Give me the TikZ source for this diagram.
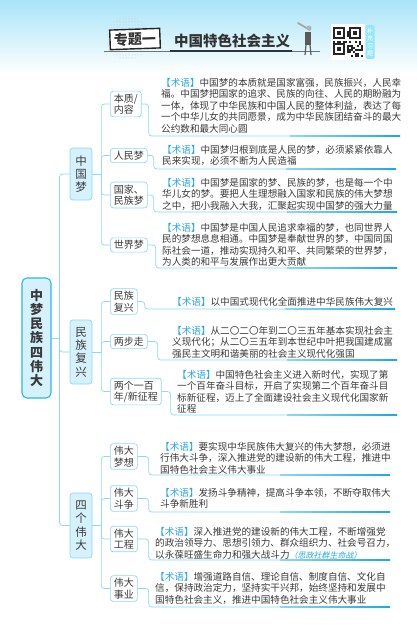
\documentclass[tikz,border=0pt]{standalone}
\usepackage{fontspec}
\setmainfont{Noto Sans CJK SC}
\usetikzlibrary{calc,patterns}
\definecolor{linkc}{HTML}{8ED8F2}
\definecolor{deepc}{HTML}{1AA9E1}
\definecolor{termc}{HTML}{2AA8E0}
\definecolor{onefill}{HTML}{D5F2FC}
\definecolor{rootline}{HTML}{2DB7E8}
\definecolor{txt}{HTML}{3A3A3A}
\definecolor{sky}{HTML}{A9E4F8}
\newcommand{\term}{{\color{termc}【术语】}}

\begin{document}
\begin{tikzpicture}[x=1pt,y=-1pt,
  link/.style={draw=linkc,line width=0.7pt,rounded corners=3pt},
  rootbox/.style={draw=rootline,line width=1.1pt,fill=onefill,rounded corners=5pt,align=center,
    font=\fontsize{13}{14.2}\selectfont\bfseries,text=txt,minimum width=29pt,minimum height=120pt,inner sep=0pt},
  lone/.style={draw=linkc,line width=0.7pt,fill=onefill,rounded corners=3pt,align=center,
    font=\fontsize{11.5}{13.3}\selectfont,text=txt,minimum width=22pt,inner xsep=0pt},
  ltwo/.style={draw=linkc,line width=0.7pt,fill=white,rounded corners=3pt,align=left,anchor=west,
    font=\fontsize{10}{11.5}\selectfont,text=txt,inner xsep=3.5pt,inner ysep=2.5pt},
  para/.style={anchor=north west,align=left,inner sep=0pt,font=\fontsize{9.6}{11.5}\selectfont,text=txt}]
\useasboundingbox (0,0) rectangle (417,634);
\fill[white] (0,0) rectangle (417,634);
% header
\shade[top color=sky,bottom color=white] (0,0) rectangle (417,74);
\fill[pattern=dots,pattern color=gray!45] (128,38) circle (22);
\draw[black!55,line width=0.8pt] (104,51) -- (320,51);
\draw[black!80,line width=1.6pt] (170,51) -- (292,51);
\node[draw=black!85,line width=1.4pt,fill=white,rotate=2,font=\fontsize{14}{15}\selectfont\bfseries,
  text=black!80,inner xsep=4pt,inner ysep=3pt] (ztyi) at (135,39) {专题一};
\node[font=\fontsize{14.5}{15}\selectfont\bfseries,text=black!80] (ttl) at (232,41) {中国特色社会主义};
% little figure
\draw[gray!70,line width=1.8pt,line cap=round] (298,23) -- (310,30);
\fill[gray!60] (309,28) circle (2.5);
\fill[black!65] (305,32) rectangle (311,45);
\draw[black!65,line width=1.2pt] (306,45) -- (305,55) (310,45) -- (311,55);
% qr code
\fill[white] (331,24) rectangle (365,60);
\pgfmathsetseed{5}
\foreach \i in {0,...,14}{\foreach \j in {0,...,14}{
  \pgfmathsetmacro\q{rnd}
  \ifdim\q pt<0.45pt \fill[black!85] ({333+2*\i},{27+2*\j}) rectangle ++(2,2);\fi}}
\foreach \fx/\fy in {333/27,349/27,333/43}{
  \fill[white] (\fx,\fy) rectangle ++(14,14);
  \fill[black!85] (\fx,\fy) rectangle ++(12,12);
  \fill[white] ({\fx+2},{\fy+2}) rectangle ++(8,8);
  \fill[black!85] ({\fx+4},{\fy+4}) rectangle ++(4,4);}
\fill[sky!90!cyan,rounded corners=1.5pt] (365.5,25) rectangle (374.5,59);
\node[text=white,align=center,inner sep=0pt,font=\fontsize{6}{7.5}\selectfont] (qtab) at (370,42) {补\\充\\习\\题};

% tree
\node[rootbox] (root) at (36.5,338) {中\\梦\\民\\族\\四\\伟\\大};
\node[lone,minimum height=52pt] (zgm) at (81,174) {中\\国\\梦};
\node[lone,minimum height=64pt] (mzfx) at (81,352) {民\\族\\复\\兴};
\node[lone,minimum height=65pt] (sgwd) at (81,525.5) {四\\个\\伟\\大};

\node[ltwo] (bz) at (110,104) {本质/\\内容};
\node[ltwo] (rm) at (110,155.5) {人民梦};
\node[ltwo] (gj) at (110,195) {国家、\\民族梦};
\node[ltwo] (sj) at (110,245) {世界梦};
\node[ltwo] (fx) at (110,301.5) {民族\\复兴};
\node[ltwo] (lb) at (110,341.5) {两步走};
\node[ltwo] (lg) at (110,391.5) {两个一百\\年/新征程};
\node[ltwo] (mx) at (110,456.5) {伟大\\梦想};
\node[ltwo] (dz) at (110,498.5) {伟大\\斗争};
\node[ltwo] (gc) at (110,539) {伟大\\工程};
\node[ltwo] (sy) at (110,588.5) {伟大\\事业};

\node[para] (bzt) at (161,78) {\term 中国梦的本质就是国家富强，民族振兴，人民幸\\
福。中国梦把国家的追求、民族的向往、人民的期盼融为\\
一体，体现了中华民族和中国人民的整体利益，表达了每\\
一个中华儿女的共同愿景，成为中华民族团结奋斗的最大\\
公约数和最大同心圆};
\node[para] (rmt) at (162,145) {\term 中国梦归根到底是人民的梦，必须紧紧依靠人\\
民来实现，必须不断为人民造福};
\node[para] (gjt) at (162,178) {\term 中国梦是国家的梦、民族的梦，也是每一个中\\
华儿女的梦。要把人生理想融入国家和民族的伟大梦想\\
之中，把小我融入大我，汇聚起实现中国梦的强大力量};
\node[para] (sjt) at (162,223) {\term 中国梦是中国人民追求幸福的梦，也同世界人\\
民的梦想息息相通。中国梦是奉献世界的梦，中国同国\\
际社会一道，推动实现持久和平、共同繁荣的世界梦，\\
为人类的和平与发展作出更大贡献};
\node[para] (fxt) at (172,297) {\term 以中国式现代化全面推进中华民族伟大复兴};
\node[para] (lbt) at (172,326) {\term 从二〇二〇年到二〇三五年基本实现社会主\\
义现代化；从二〇三五年到本世纪中叶把我国建成富\\
强民主文明和谐美丽的社会主义现代化强国};
\node[para] (lgt) at (177,370) {\term 中国特色社会主义进入新时代，实现了第\\
一个百年奋斗目标，开启了实现第二个百年奋斗目\\
标新征程，迈上了全面建设社会主义现代化国家新\\
征程};
\node[para] (mxt) at (160,442) {\term 要实现中华民族伟大复兴的伟大梦想，必须进\\
行伟大斗争，深入推进党的建设新的伟大工程，推进中\\
国特色社会主义伟大事业};
\node[para] (dzt) at (160,488) {\term 发扬斗争精神，提高斗争本领，不断夺取伟大\\
斗争新胜利};
\node[para] (gct) at (155,527) {\term 深入推进党的建设新的伟大工程，不断增强党\\
的政治领导力、思想引领力、群众组织力、社会号召力，\\
以永葆旺盛生命力和强大战斗力{\color{termc}\fontsize{8}{8}\selectfont\addfontfeature{FakeSlant=0.2}（思政社群生命战）}};
\node[para] (syt) at (155,572) {\term 增强道路自信、理论自信、制度自信、文化自\\
信，保持政治定力，坚持实干兴邦，始终坚持和发展中\\
国特色社会主义，推进中国特色社会主义伟大事业};

% connectors
\draw[link] (root.east) -- ++(8,0) coordinate (trunk);
\foreach \c in {zgm,mzfx,sgwd} \draw[link] (trunk) |- (\c.west);
\draw[link] (zgm.east) -- ++(9,0) coordinate (zgmj);
\foreach \c in {bz,rm,gj,sj} \draw[link] (zgmj) |- (\c.west);
\draw[link] (mzfx.east) -- ++(9,0) coordinate (mzfxj);
\foreach \c in {fx,lb,lg} \draw[link] (mzfxj) |- (\c.west);
\draw[link] (sgwd.east) -- ++(9,0) coordinate (sgwdj);
\foreach \c in {mx,dz,gc,sy} \draw[link] (sgwdj) |- (\c.west);

\foreach \n/\d/\ux/\uy in {bz/7/400/136,rm/6/396/169,gj/6/397/212,sj/8/397/268,
  fx/7/395/309,lb/10/397/360,lg/9/397/415,mx/11/390/475,dz/11/390/512,gc/11/390/560,sy/11/390/607}{
  \coordinate (\n-end) at (\ux,\uy);
  \draw[link] (\n.east) -- ++(\d,0) |- (\n-end);
  \shade[left color=linkc,right color=deepc] ($(\n-end)+(-110,-0.9)$) rectangle ($(\n-end)+(0,0.9)$);}
\end{tikzpicture}
\end{document}
